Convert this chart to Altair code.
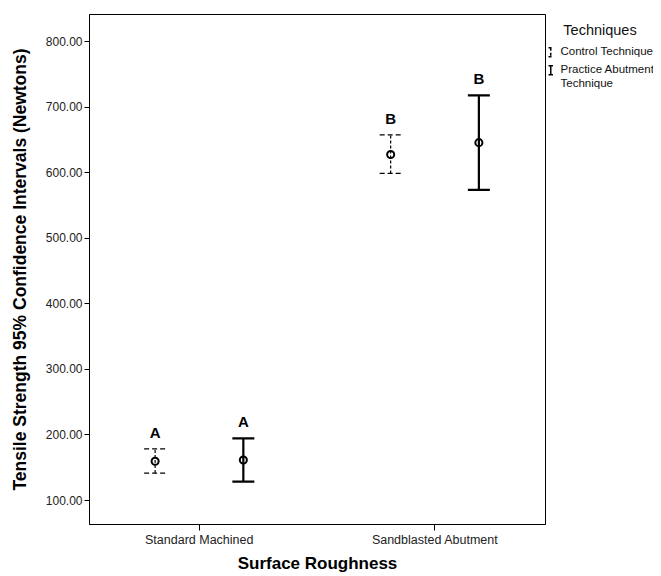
import altair as alt
import pandas as pd

categories = ["Standard Machined", "Standard Machined", "Sandblasted Abutment", "Sandblasted Abutment"]
techniques = ["Control Technique", "Practice Abutment Technique", "Control Technique", "Practice Abutment Technique"]
means = [159, 161, 627, 645]
lowers = [141, 128, 598, 573]
uppers = [178, 194, 657, 717]
letters = ["A", "A", "B", "B"]

cat_order = ["Standard Machined", "Sandblasted Abutment"]
tech_order = ["Control Technique", "Practice Abutment Technique"]
y_ticks = [100, 200, 300, 400, 500, 600, 700, 800]

df = pd.DataFrame({
    "surface": categories,
    "technique": techniques,
    "mean": means,
    "lower": lowers,
    "upper": uppers,
    "letter": letters,
})

FONT = "Liberation Sans"

x = alt.X("surface:N", sort=cat_order,
          scale=alt.Scale(paddingInner=0.2, paddingOuter=0.068),
          axis=alt.Axis(title="Surface Roughness", labelAngle=0, labelFontSize=12.5,
                        labelColor="#222", tickSize=6, tickColor="black", domainColor="black",
                        labelPadding=3, titlePadding=10, titleFontSize=17, titleFontWeight="bold",
                        titleColor="black", labelFont=FONT, titleFont=FONT))
xo = alt.XOffset("technique:N", sort=tech_order,
                 scale=alt.Scale(paddingInner=0, paddingOuter=0.068))
yscale = alt.Scale(domain=[63.4, 841.2], nice=False, zero=False)
yaxis = alt.Axis(title="Tensile Strength 95% Confidence Intervals (Newtons)", values=y_ticks,
                 format=".2f", labelFontSize=12, labelColor="#222", tickSize=5, tickColor="black",
                 domainColor="black", grid=False, titleFontSize=17.5, titleFontWeight="bold",
                 titleColor="black", titlePadding=16, labelFont=FONT, titleFont=FONT)

dash = alt.StrokeDash("technique:N", sort=tech_order,
                      scale=alt.Scale(domain=tech_order, range=[[3, 2], [1, 0]]),
                      legend=alt.Legend(title="Techniques", orient="none", legendX=456, legendY=10,
                                        symbolType="M-0.5,-1H0.5M0,-1V1M-0.5,1H0.5",
                                        symbolSize=80, symbolStrokeColor="black",
                                        labelFont=FONT, labelFontSize=11.5, labelColor="#111",
                                        titleFont=FONT, titleFontSize=14.5, titleFontWeight="normal",
                                        titleColor="#111", titleAnchor="middle", titlePadding=8,
                                        rowPadding=2, labelOffset=4,
                                        labelExpr="datum.label == 'Practice Abutment Technique' ? ['Practice Abutment', 'Technique'] : datum.label"))
width_enc = alt.StrokeWidth("technique:N", sort=tech_order,
                            scale=alt.Scale(domain=tech_order, range=[1.2, 2.2]), legend=None)

base = alt.Chart(df).encode(x=x, xOffset=xo)

rules = base.mark_rule(color="black").encode(
    y=alt.Y("lower:Q", scale=yscale, axis=yaxis),
    y2="upper:Q",
    strokeDash=dash,
    strokeWidth=width_enc,
)

cap_dash = alt.StrokeDash("technique:N", sort=tech_order,
                          scale=alt.Scale(domain=tech_order, range=[[5, 3], [1, 0]]), legend=None)
caps_lo = base.mark_point(shape="M-1,0H1", size=484, color="black", filled=False, opacity=1).encode(
    y=alt.Y("lower:Q", scale=yscale), strokeDash=cap_dash, strokeWidth=width_enc)
caps_hi = base.mark_point(shape="M-1,0H1", size=484, color="black", filled=False, opacity=1).encode(
    y=alt.Y("upper:Q", scale=yscale), strokeDash=cap_dash, strokeWidth=width_enc)

points = base.mark_point(shape="circle", size=50, filled=False, color="black",
                         strokeWidth=2, opacity=1).encode(
    y=alt.Y("mean:Q", scale=yscale))

labels = base.mark_text(font=FONT, fontSize=15, fontWeight="bold", color="black",
                        baseline="middle", dy=-16).encode(
    y=alt.Y("upper:Q", scale=yscale), text="letter:N")

chart = alt.layer(rules, caps_lo, caps_hi, points, labels).properties(
    width=456, height=510,
    autosize=alt.AutoSizeParams(type="none"),
    padding={"left": 81, "top": 6, "right": 108, "bottom": 50},
).configure_view(stroke="black", strokeWidth=1).resolve_scale(strokeDash="independent")

chart.save("out.html", embed_options={"renderer": "svg", "actions": False})
